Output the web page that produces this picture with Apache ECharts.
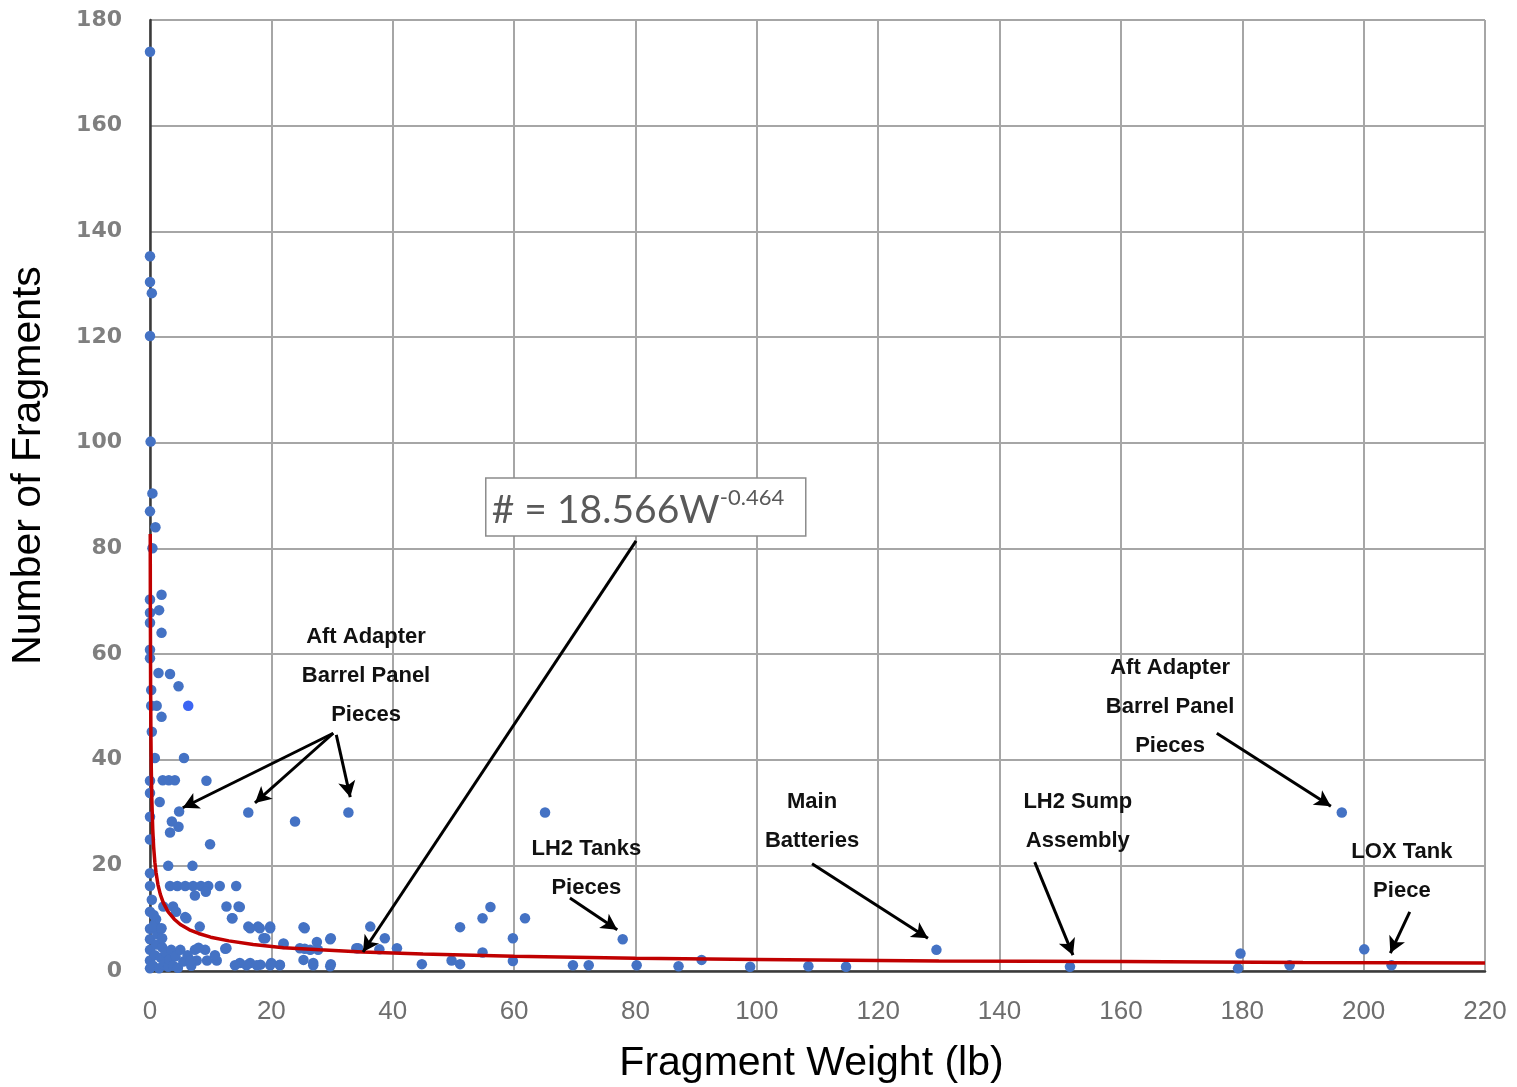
<!DOCTYPE html>
<html>
<head>
<meta charset="utf-8">
<script src="https://cdn.jsdelivr.net/npm/echarts@6.0.0/dist/echarts.min.js"></script>
<style>
html, body { margin: 0; padding: 0; background: #fff; }
#chart { width: 1517px; height: 1087px; }
</style>
</head>
<body>
<div id="chart"></div>
<script>
// fragment weights (lb) and counts
const weightLb = [
  0, 0, 0, 0.3, 0, 0.1, 0.4, 0, 0.9, 0.4,
  1.9, 0, 1.5, 0, 0, 1.9, 0, 0, 1.4, 3.3, 4.7, 0.2, 0.2, 1.1, 1.9, 0.3, 5.6, 0.8,
  0, 2.1, 3.1, 4.1, 9.3, 0, 1.6, 4.8, 0, 3.6, 4.7, 3.3, 16.2, 23.9, 0, 9.9,
  3.0, 7.0, 0, 0, 3.3, 4.5, 5.8, 7.1, 8.4, 9.6, 11.5, 14.2, 7.4, 9.2,
  2.2, 3.8, 12.6, 14.6, 0, 4.3, 5.8, 13.5, 0.8, 8.2, 16.2, 17.8, 19.8, 25.3, 18.7,
  7.4, 9.1, 12.4, 22, 25.5, 27.5, 7.7, 9.4, 11, 14.8, 16.5, 18.2, 20, 21.4,
  0, 0, 0, 0, 0, 0.5, 0.8, 1, 1.2, 1.5, 1.8, 2, 2.3, 2.6, 3, 3.2, 3.5, 3.8, 4.2, 4.6,
  5, 5.5, 6.2, 6.8, 1, 2, 0.3, 0.6, 1.8, 0.5, 1.9, 6.7, 8, 10.7, 12.6, 6,
  14.8, 13.6, 16.5, 18.1, 19.8, 19, 25.5, 29.7, 22, 24.7, 26.4, 27.7, 25.3, 14, 15.9, 17.6, 19.8, 21.4, 26.9, 29.7, 34,
  32.7, 65.1, 29.8, 36.3, 38.7, 37.8, 40.7, 34.3, 26.9, 29.8, 44.8, 49.7, 51.1, 51.1, 54.8, 56.1, 61.8, 59.8, 54.8, 59.8,
  77.9, 69.7, 72.3, 80.2, 87.1, 90.9, 98.9, 108.5, 114.7, 129.6,
  196.4, 151.6, 179.7, 179.3, 187.8, 200.1, 204.6
];
const fragmentCount = [
  174, 135.3, 130.4, 128.3, 120.2, 100.2, 90.4, 87, 84, 80,
  71.2, 70.3, 68.3, 67.8, 65.9, 64, 60.8, 59.2, 56.4, 56.2, 53.9, 53.2, 50.2, 50.2, 48.1, 45.3, 40.3, 40.3,
  36, 36.1, 36.1, 36.1, 36, 33.7, 32, 30.2, 29.2, 28.3, 27.3, 26.2, 30, 28.3, 24.9, 24,
  19.9, 19.9, 18.5, 16.1, 16.1, 16.1, 16.1, 16.1, 16.1, 16.1, 16.1, 16.1, 14.3, 15,
  12.2, 12.2, 12.2, 12.2, 11.2, 11.2, 10.2, 10, 9, 8.4, 8.4, 8.4, 8.4, 8.3, 6.2,
  4, 4, 4.2, 5.2, 4.2, 5.5, 2, 2, 2, 1.5, 1.5, 1.2, 1.5, 1.2,
  0.5, 2, 4, 6, 8, 1, 3, 5, 7, 0.5, 2.5, 4.5, 1.2, 3.5, 0.8, 2.2, 4, 1, 2.8, 0.6,
  4, 1.8, 3, 1, 9.8, 6.2, 13.5, 10.6, 8, 8.4, 8.1, 2, 4.4, 3, 4.3, 10,
  12.1, 10, 8.1, 8.1, 8.1, 6.2, 8.1, 6, 5.1, 4.3, 4, 4, 2.1, 1.1, 1.1, 1.1, 1.1, 1.1, 1.1, 0.9, 4.3,
  30, 30, 6.2, 8.4, 6.2, 4.1, 4.3, 4.3, 1.5, 1.3, 1.3, 2, 1.3, 8.3, 10, 12.1, 10, 6.2, 3.5, 1.9,
  6, 1.1, 1.1, 1.1, 0.9, 2.1, 0.8, 0.9, 0.8, 4,
  30, 0.8, 3.3, 0.5, 1.1, 4.1, 1.1
];
// the one brighter marker
const highlightWeight = [6.3];
const highlightCount = [50.2];

// power-law trend line (# = 18.566 W^-0.464) as drawn
const fitWeight = [0.04, 0.06, 0.1, 0.15, 0.2, 0.3, 0.45, 0.6, 0.8, 1, 1.3, 1.7, 2.2, 3, 4, 5, 6.5, 8, 10, 13, 17, 22, 28, 35, 45, 60, 80, 100, 130, 160, 190, 220];
const fitCount = [82.7, 68.5, 54, 44.8, 39.2, 32.5, 26.9, 23.5, 20.6, 18.6, 16.4, 14.5, 12.9, 11.2, 9.8, 8.8, 7.8, 7.1, 6.4, 5.7, 5.0, 4.4, 4.0, 3.6, 3.2, 2.8, 2.4, 2.2, 1.9, 1.8, 1.6, 1.5];

// callouts: label lines, label centre and arrows (tail -> head), in data units
const callouts = [
  { lines: ['Aft Adapter', 'Barrel Panel', 'Pieces'], at: [35.6, 55.8],
    arrows: [[[30.2, 45.0], [5.4, 30.9]], [[30.2, 45.0], [17.3, 31.8]], [[30.7, 44.7], [33.0, 32.9]]] },
  { lines: ['LH2 Tanks', 'Pieces'], at: [71.9, 19.5], arrows: [[[69.2, 13.8], [77.0, 7.8]]] },
  { lines: ['Main', 'Batteries'], at: [109.1, 28.4], arrows: [[[109.1, 20.3], [128.2, 6.2]]] },
  { lines: ['LH2 Sump', 'Assembly'], at: [152.9, 28.4], arrows: [[[145.8, 20.6], [152.1, 3.0]]] },
  { lines: ['Aft Adapter', 'Barrel Panel', 'Pieces'], at: [168.1, 50.0], arrows: [[[175.8, 45.0], [194.6, 31.2]]] },
  { lines: ['LOX Tank', 'Piece'], at: [206.3, 18.9], arrows: [[[207.6, 11.2], [204.4, 3.4]]] }
];
const equationAt = [81.7, 87.8];
const equationArrow = [[80.1, 81.4], [35.1, 3.6]];

const chart = echarts.init(document.getElementById('chart'));

let arrowLines = [];
callouts.forEach(c => c.arrows.forEach(a => arrowLines.push([{ coord: a[0] }, { coord: a[1] }])));
arrowLines.push([{ coord: equationArrow[0] }, { coord: equationArrow[1] }]);

const narrow = "'Liberation Sans Narrow', 'Arial Narrow', 'Liberation Sans', sans-serif";

const option = {
  animation: false,
  backgroundColor: '#fff',
  grid: { left: 150, right: 32, top: 20, bottom: 116, containLabel: false, outerBoundsMode: 'none' },
  xAxis: {
    type: 'value', min: 0, max: 220, interval: 20,
    name: 'Fragment Weight (lb)', nameLocation: 'middle', nameGap: 72,
    nameTextStyle: { color: '#000', fontSize: 41, fontFamily: narrow, padding: [0, 12, 0, 0] },
    axisLine: { show: true, onZero: false, lineStyle: { color: '#3a3a3a', width: 2.5 } },
    axisTick: { show: false },
    axisLabel: { color: '#6e6e6e', fontSize: 26, fontFamily: narrow, margin: 28 },
    splitLine: { show: true, lineStyle: { color: '#a6a6a6', width: 2 } }
  },
  yAxis: {
    type: 'value', min: 0, max: 180, interval: 20,
    name: 'Number of Fragments', nameLocation: 'middle', nameGap: 101, nameRotate: 90,
    nameTextStyle: { color: '#000', fontSize: 41, fontFamily: narrow, padding: [0, 0, 0, 60] },
    axisLine: { show: true, onZero: false, lineStyle: { color: '#3a3a3a', width: 2.5 } },
    axisTick: { show: false },
    axisLabel: { color: '#7f7f7f', fontSize: 22, fontWeight: 'bold', fontFamily: 'DejaVu Sans', margin: 28 },
    splitLine: { show: true, lineStyle: { color: '#a6a6a6', width: 2 } }
  },
  series: [
    {
      type: 'scatter', symbolSize: 10.5, z: 3,
      itemStyle: { color: '#4472C4', opacity: 1 },
      data: weightLb.map((w, i) => [w, fragmentCount[i]])
    },
    {
      type: 'scatter', symbolSize: 10.5, z: 3,
      itemStyle: { color: '#0b3ef0' },
      data: highlightWeight.map((w, i) => [w, highlightCount[i]])
    },
    {
      type: 'line', showSymbol: false, z: 4,
      lineStyle: { color: '#c00000', width: 3.5 },
      data: fitWeight.map((w, i) => [w, fitCount[i]]),
      markLine: {
        silent: true, animation: false,
        symbol: ['none', 'arrow'], symbolSize: [13, 16],
        label: { show: false },
        lineStyle: { color: '#000', width: 3, type: 'solid' },
        emphasis: { disabled: true },
        data: arrowLines
      }
    }
  ]
};
chart.setOption(option);

// callout texts and the equation box, placed from data units
const graphics = [];
callouts.forEach(c => {
  const p = chart.convertToPixel({ gridIndex: 0 }, c.at);
  graphics.push({
    type: 'text', x: p[0], y: p[1], z: 20,
    style: {
      text: c.lines.join('\n'), fill: '#111', align: 'center', verticalAlign: 'middle',
      font: 'bold 22px "Liberation Sans", Arial, sans-serif', lineHeight: 39
    }
  });
});
const eq = chart.convertToPixel({ gridIndex: 0 }, equationAt);
graphics.push({
  type: 'group', x: eq[0], y: eq[1], z: 20,
  children: [
    { type: 'rect', shape: { x: -160, y: -29, width: 320, height: 58 },
      style: { fill: '#fff', stroke: '#8c8c8c', lineWidth: 1.5 } },
    { type: 'text', x: -154, y: 3,
      style: { text: '# = 18.566W', fill: '#595959', font: '39px Lato, "Open Sans", sans-serif', verticalAlign: 'middle' } },
    { type: 'text', x: 74, y: -9,
      style: { text: '-0.464', fill: '#595959', font: '22px Lato, "Open Sans", sans-serif', verticalAlign: 'middle' } }
  ]
});
chart.setOption({ graphic: graphics });
</script>
</body>
</html>
